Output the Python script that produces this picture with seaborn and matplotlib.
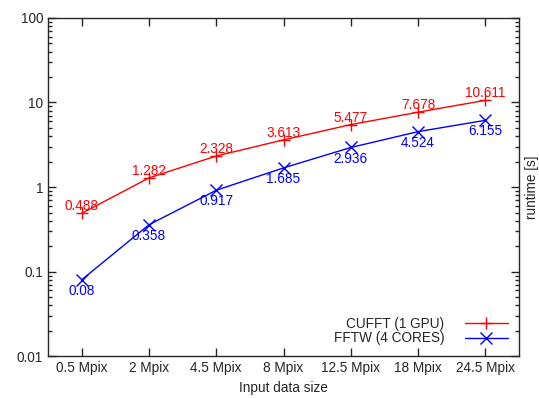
import pandas as pd
import matplotlib.pyplot as plt
import seaborn as sns
from matplotlib.ticker import LogLocator, NullFormatter

sns.set_style("ticks")
plt.rcParams['font.family'] = ['Liberation Sans', 'DejaVu Sans']

sizes = ['0.5 Mpix', '2 Mpix', '4.5 Mpix', '8 Mpix', '12.5 Mpix', '18 Mpix', '24.5 Mpix']
cufft = [0.488, 1.282, 2.328, 3.613, 5.477, 7.678, 10.611]
fftw = [0.08, 0.358, 0.917, 1.685, 2.936, 4.524, 6.155]

df = pd.DataFrame({
    'x': list(range(len(sizes))) * 2,
    'runtime': cufft + fftw,
    'series': ['CUFFT (1 GPU)'] * len(sizes) + ['FFTW (4 CORES)'] * len(sizes),
})

fig, ax = plt.subplots(figsize=(5.39, 3.98), dpi=100)
sns.lineplot(data=df, x='x', y='runtime', hue='series', style='series',
             palette={'CUFFT (1 GPU)': '#ff0000', 'FFTW (4 CORES)': '#0000ff'},
             markers={'CUFFT (1 GPU)': '+', 'FFTW (4 CORES)': 'x'},
             dashes=False, lw=1, markersize=8, mew=1, ax=ax)
# seaborn paints marker edges white; gnuplot style wants them in line colour
for ln in ax.lines:
    ln.set_markeredgecolor(ln.get_color())

ax.set_yscale('log')
ax.set_ylim(0.01, 100)
ax.set_xlim(-0.5, 6.5)
ax.set_xticks(range(len(sizes)))
ax.set_xticklabels(sizes)
ax.yaxis.set_minor_locator(LogLocator(base=10, subs=range(2, 10)))
ax.yaxis.set_minor_formatter(NullFormatter())
ax.set_yticks([0.01, 0.1, 1, 10, 100])
ax.set_yticklabels(['0.01', '0.1', '1', '10', '100'])

fs = 9.8
for i, v in enumerate(cufft):
    ax.annotate(f'{v:g}', (i, v), xytext=(0, 5), textcoords='offset points',
                ha='center', va='center', color='#ff0000', fontsize=fs)
for i, v in enumerate(fftw):
    ax.annotate(f'{v:g}', (i, v), xytext=(0, -8), textcoords='offset points',
                ha='center', va='center', color='#0000ff', fontsize=fs)

ax.tick_params(which='both', direction='in', top=True, right=True, labelsize=fs, width=1)
ax.tick_params(which='major', length=6)
ax.tick_params(which='minor', length=3)
for s in ax.spines.values():
    s.set_visible(True)
    s.set_linewidth(1)

ax.set_xlabel('Input data size', fontsize=fs)
ax.set_ylabel('runtime [s]', fontsize=fs)
ax.yaxis.set_label_position('right')

leg = ax.legend(loc='lower right', frameon=False, markerfirst=False, fontsize=fs,
                handlelength=3.2, labelspacing=0.05, borderaxespad=0.4,
                handletextpad=1.5, alignment='right')
for h in leg.legend_handles:
    h.set_markeredgecolor(h.get_color())
for t in leg.get_texts():
    t.set_ha('right')

fig.subplots_adjust(left=0.089, right=0.963, top=0.955, bottom=0.105)
fig.savefig('out.png', dpi=100)
